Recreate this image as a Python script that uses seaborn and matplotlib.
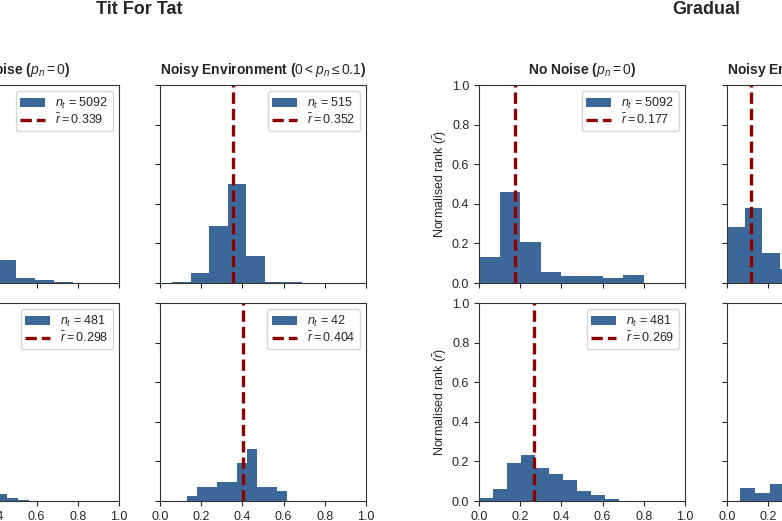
import numpy as np
import pandas as pd
import matplotlib
matplotlib.use("Agg")
import matplotlib.pyplot as plt
import seaborn as sns

# Data
strategies = ["Tit For Tat", "Gradual"]
conditions = ["No Noise ($p_n = 0$)", "Noisy Environment ($0 < p_n \\leq 0.1$)"]
x_ticks = [0.0, 0.2, 0.4, 0.6, 0.8, 1.0]
y_ticks = [0.0, 0.2, 0.4, 0.6, 0.8, 1.0]

# Tit For Tat, no noise
tft_clean_top_range = (0.031, 0.965)
tft_clean_top = [0.010, 0.050, 0.260, 0.516, 0.118, 0.025, 0.013, 0.005, 0.002, 0.001]
tft_clean_bottom_range = (0.030, 0.561)
tft_clean_bottom = [0.010, 0.030, 0.070, 0.150, 0.240, 0.260, 0.186, 0.034, 0.017, 0.003]

# Tit For Tat, noisy
tft_noisy_top_range = (0.059, 0.958)
tft_noisy_top = [0.003, 0.052, 0.286, 0.500, 0.138, 0.007, 0.004, 0.002, 0.000, 0.002]
tft_noisy_bottom_range = (0.129, 0.617)
tft_noisy_bottom = [0.024, 0.071, 0.071, 0.095, 0.095, 0.190, 0.262, 0.071, 0.071, 0.048]

# Gradual, no noise
grad_clean_top_range = (0.0, 1.0)
grad_clean_top = [0.131, 0.460, 0.207, 0.054, 0.034, 0.037, 0.025, 0.039, 0.002, 0.000]
grad_clean_bottom_range = (0.0, 0.68)
grad_clean_bottom = [0.017, 0.062, 0.190, 0.232, 0.166, 0.138, 0.108, 0.049, 0.030, 0.008]

# Gradual, noisy
grad_noisy_top_range = (0.0, 0.86)
grad_noisy_top = [0.283, 0.379, 0.152, 0.070, 0.050, 0.030, 0.020, 0.010, 0.006, 0.000]
grad_noisy_bottom_range = (0.065, 0.795)
grad_noisy_bottom = [0.064, 0.042, 0.086, 0.120, 0.200, 0.180, 0.130, 0.090, 0.060, 0.028]

n_tournaments = {
    ("Tit For Tat", 0, 0): 5092, ("Tit For Tat", 0, 1): 515,
    ("Tit For Tat", 1, 0): 481, ("Tit For Tat", 1, 1): 42,
    ("Gradual", 0, 0): 5092, ("Gradual", 0, 1): 515,
    ("Gradual", 1, 0): 481, ("Gradual", 1, 1): 42,
}
mean_rank = {
    ("Tit For Tat", 0, 0): 0.339, ("Tit For Tat", 0, 1): 0.352,
    ("Tit For Tat", 1, 0): 0.298, ("Tit For Tat", 1, 1): 0.404,
    ("Gradual", 0, 0): 0.177, ("Gradual", 0, 1): 0.116,
    ("Gradual", 1, 0): 0.269, ("Gradual", 1, 1): 0.352,
}
hist_data = {
    ("Tit For Tat", 0, 0): (tft_clean_top_range, tft_clean_top),
    ("Tit For Tat", 1, 0): (tft_clean_bottom_range, tft_clean_bottom),
    ("Tit For Tat", 0, 1): (tft_noisy_top_range, tft_noisy_top),
    ("Tit For Tat", 1, 1): (tft_noisy_bottom_range, tft_noisy_bottom),
    ("Gradual", 0, 0): (grad_clean_top_range, grad_clean_top),
    ("Gradual", 1, 0): (grad_clean_bottom_range, grad_clean_bottom),
    ("Gradual", 0, 1): (grad_noisy_top_range, grad_noisy_top),
    ("Gradual", 1, 1): (grad_noisy_bottom_range, grad_noisy_bottom),
}

sns.set_style("ticks")
plt.rcParams["font.family"] = ["Liberation Sans", "DejaVu Sans"]
plt.rcParams["mathtext.fontset"] = "custom"
plt.rcParams["mathtext.rm"] = "Liberation Sans"
plt.rcParams["mathtext.it"] = "Liberation Sans:italic"
plt.rcParams["mathtext.bf"] = "Liberation Sans:bold"
plt.rcParams["axes.edgecolor"] = "#333333"
plt.rcParams["axes.linewidth"] = 0.8

BAR_COLOR = "#3b6899"
LINE_COLOR = "#8b0000"

FIG_W, FIG_H = 782, 521
fig = plt.figure(figsize=(FIG_W / 100, FIG_H / 100), dpi=100)

# axes layout in pixels (the figure is a crop of a wider one)
col_left = {("Tit For Tat", 0): -87, ("Tit For Tat", 1): 160,
            ("Gradual", 0): 479, ("Gradual", 1): 727}
row_top = [85, 303]
AX_W, AX_H = 206, 198


def add_px_axes(x0, y0, w, h):
    return fig.add_axes([x0 / FIG_W, 1 - (y0 + h) / FIG_H, w / FIG_W, h / FIG_H])


for strat in strategies:
    for col in range(2):
        for row in range(2):
            key = (strat, row, col)
            ax = add_px_axes(col_left[(strat, col)], row_top[row], AX_W, AX_H)
            (lo, hi), heights = hist_data[key]
            edges = np.linspace(lo, hi, len(heights) + 1)
            df = pd.DataFrame({"rank": (edges[:-1] + edges[1:]) / 2, "frac": heights})
            sns.histplot(data=df, x="rank", weights="frac", bins=list(edges), ax=ax,
                         color=BAR_COLOR, alpha=1, linewidth=0)
            bars = ax.patches[0]
            line = ax.axvline(mean_rank[key], color=LINE_COLOR, lw=2.4,
                              ls=(0, (3.4, 1.5)))
            ax.legend([bars, line],
                      [f"$n_t$ = {n_tournaments[key]}",
                       f"$\\bar{{r}} = {mean_rank[key]:.3f}$"],
                      loc="upper right", fontsize=9, handlelength=2.0,
                      labelspacing=0.15, borderpad=0.35, handletextpad=0.8)
            ax.set_xlim(0, 1)
            ax.set_ylim(0, 1)
            ax.set_xticks(x_ticks)
            ax.set_yticks(y_ticks)
            ax.tick_params(labelsize=9, length=3.5, width=0.8)
            ax.set_xlabel("")
            ax.set_ylabel("")
            if row == 0:
                ax.set_title(conditions[col], fontsize=10, fontweight="bold", pad=8)
                ax.tick_params(labelbottom=False)
            if col == 0:
                ax.set_ylabel("Normalised rank ($\\bar{r}$)", fontsize=9, labelpad=2)
            else:
                ax.tick_params(labelleft=False)

    center = col_left[(strat, 0)] + (col_left[(strat, 1)] + AX_W - col_left[(strat, 0)]) / 2
    fig.text(center / FIG_W, 1 - 10 / FIG_H, strat, ha="center", va="center",
             fontsize=13, fontweight="bold")

fig.savefig("out.png", dpi=100)
